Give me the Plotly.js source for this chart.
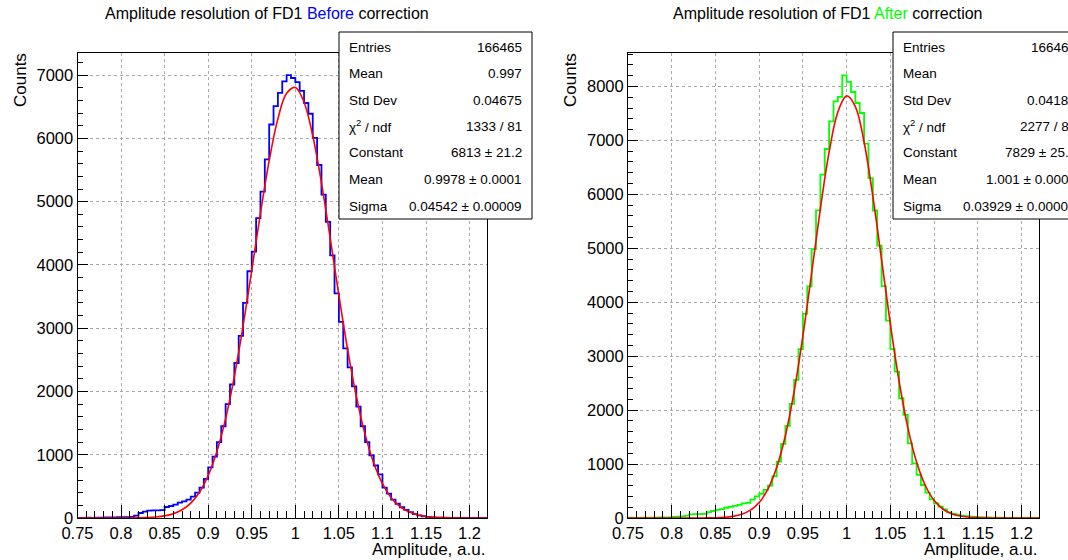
<!DOCTYPE html>
<html><head><meta charset="utf-8">
<script src="https://cdn.plot.ly/plotly-3.0.1.min.js"></script>
<style>html,body{margin:0;padding:0;background:#fff;} #chart{width:1068px;height:560px;}</style>
</head><body><div id="chart"></div>
<script>
// Histogram binning (0.75 .. 1.22, width 0.005, 94 bins)
const binLow = 0.75;
const binWidth = 0.005;

const countsBefore = [
  3, 2, 4, 3, 6, 5, 8, 9, 10, 12,
  12, 14, 18, 37, 79, 100, 118, 121, 121, 124,
  174, 190, 211, 243, 264, 290, 337, 400, 480, 620,
  800, 970, 1200, 1450, 1800, 2110, 2450, 2880, 3400, 3900,
  4210, 4740, 5160, 5670, 6220, 6510, 6720, 6900, 7000, 6955,
  6890, 6750, 6560, 6390, 6010, 5580, 5110, 4680, 4150, 3550,
  3100, 2680, 2380, 2080, 1760, 1450, 1200, 990, 830, 690,
  480, 385, 290, 225, 170, 128, 92, 62, 42, 28,
  18, 10, 6, 4, 3, 2, 1, 1, 0, 0,
  0, 0, 0, 0
];

const countsAfter = [
  5, 3, 4, 6, 5, 8, 6, 9, 10, 12,
  20, 25, 30, 45, 68, 70, 72, 75, 110, 130,
  150, 165, 190, 205, 225, 245, 270, 280, 340, 400,
  450, 520, 600, 770, 1045, 1373, 1707, 2115, 2560, 3129,
  3785, 4292, 4985, 5702, 6364, 6840, 7353, 7724, 7805, 8207,
  8083, 7897, 7693, 7508, 6939, 6300, 5700, 5050, 4300, 3660,
  3130, 2715, 2220, 1911, 1385, 1014, 798, 612, 470, 346,
  272, 210, 161, 105, 74, 60, 43, 35, 25, 20,
  15, 12, 10, 8, 6, 5, 4, 3, 3, 2,
  2, 1, 1, 1
];

// Gaussian fit curves read at 0.01 steps
const fitX = [0.75,0.76,0.77,0.78,0.79,0.80,0.81,0.82,0.83,0.84,0.85,0.86,0.87,0.88,0.89,0.90,0.91,0.92,0.93,0.94,0.95,0.96,0.97,0.98,0.99,1.00,1.01,1.02,1.03,1.04,1.05,1.06,1.07,1.08,1.09,1.10,1.11,1.12,1.13,1.14,1.15,1.16,1.17,1.18,1.19,1.20,1.21,1.22];
const fitBefore = [0,0,0,0,0.1,0.5,1.3,3.2,7.4,16.3,34.2,68.3,130,236,407,671,1052,1571,2236,3032,3916,4819,5649,6309,6713,6805,6572,6046,5299,4425,3520,2667,1926,1325,868,542,322,183,98.6,50.7,24.8,11.6,5.2,2.2,0.9,0.3,0.1,0];
const fitAfter = [0,0,0,0,0,0,0,0.2,0.6,1.8,4.9,12.5,30.2,68.3,144.8,287.6,535.6,934.7,1529.6,2345.8,3371.6,4541.8,5734.9,6787,7528,7826,7626,6965,5962,4783,3597,2535,1675,1037,602,327,166.8,79.7,35.7,15.0,5.9,2.2,0.8,0.2,0,0,0,0];

const xTickVals = [0.75,0.8,0.85,0.9,0.95,1,1.05,1.1,1.15,1.2];
const xTickText = ["0.75","0.8","0.85","0.9","0.95","1","1.05","1.1","1.15","1.2"];

const statsLabels = ["Entries","Mean","Std Dev","\u03c7<sup>2</sup> / ndf","Constant","Mean","Sigma"];
const statsBefore = ["166465","0.997","0.04675","1333 / 81","6813 \u00b1 21.2","0.9978 \u00b1 0.0001","0.04542 \u00b1 0.00009"];
const statsAfter  = ["166465","1","0.04189","2277 / 82","7829 \u00b1 25.0","1.001 \u00b1 0.0001","0.03929 \u00b1 0.00008"];

const W = 1068, H = 560;
const FONT = "Liberation Sans, Arial, Helvetica, sans-serif";
const px = v => v / W;
const py = v => 1 - v / H;

function stepTrace(counts, color, xa, ya) {
  const xs = [], ys = [];
  for (let i = 0; i < counts.length; i++) { xs.push(binLow + i * binWidth); ys.push(counts[i]); }
  xs.push(binLow + counts.length * binWidth); ys.push(counts[counts.length - 1]);
  return {x: xs, y: ys, type: 'scatter', mode: 'lines', line: {shape: 'hv', color: color, width: 1.8},
          xaxis: xa, yaxis: ya, hoverinfo: 'skip', showlegend: false};
}
function fitTrace(vals, xa, ya) {
  return {x: fitX, y: vals, type: 'scatter', mode: 'lines', line: {shape: 'spline', color: '#ff0000', width: 1.6},
          xaxis: xa, yaxis: ya, hoverinfo: 'skip', showlegend: false};
}

const data = [
  stepTrace(countsBefore, '#0000ff', 'x', 'y'),
  fitTrace(fitBefore, 'x', 'y'),
  stepTrace(countsAfter, '#00ff00', 'x2', 'y2'),
  fitTrace(fitAfter, 'x2', 'y2')
];

const plotTop = 53, plotBottom = 518;
function xAxis(domL, domR, anchor) {
  return {domain: [px(domL), px(domR)], range: [0.75, 1.22], anchor: anchor,
    showline: true, mirror: true, linecolor: '#000', linewidth: 1,
    ticks: 'inside', ticklen: 13, tickwidth: 1, tickcolor: '#000',
    tickvals: xTickVals, ticktext: xTickText,
    tickfont: {family: FONT, size: 16.5, color: '#000'},
    showgrid: true, gridcolor: '#a8a8a8', griddash: 'dot', gridwidth: 1, zeroline: false,
    minor: {dtick: 0.01, tick0: 0.75, ticks: 'inside', ticklen: 7, tickcolor: '#000', showgrid: false},
    fixedrange: true};
}
function yAxis(maxV, anchor) {
  return {domain: [1 - plotBottom / H, 1 - plotTop / H], range: [0, maxV], anchor: anchor,
    showline: true, mirror: true, linecolor: '#000', linewidth: 1,
    ticks: 'inside', ticklen: 10, tickwidth: 1, tickcolor: '#000',
    tick0: 0, dtick: 1000, tickformat: 'd',
    tickfont: {family: FONT, size: 16.5, color: '#000'},
    showgrid: true, gridcolor: '#a8a8a8', griddash: 'dot', gridwidth: 1, zeroline: false,
    minor: {dtick: 200, tick0: 0, ticks: 'inside', ticklen: 5, tickcolor: '#000', showgrid: false},
    fixedrange: true};
}

const shapes = [];
const annotations = [];
function statsBox(left, right, labelX, valueX, values) {
  shapes.push({type: 'rect', xref: 'paper', yref: 'paper', x0: px(left), x1: px(right), y0: py(219), y1: py(32),
    fillcolor: '#ffffff', line: {color: '#000', width: 1}, layer: 'above'});
  const rowsY = [47, 73.5, 100, 126.5, 153, 179.5, 206];
  for (let i = 0; i < statsLabels.length; i++) {
    annotations.push({xref: 'paper', yref: 'paper', x: px(labelX), y: py(rowsY[i]), xanchor: 'left', yanchor: 'middle',
      text: statsLabels[i], showarrow: false, font: {family: FONT, size: 13.5, color: '#000'}});
    annotations.push({xref: 'paper', yref: 'paper', x: px(valueX), y: py(rowsY[i]), xanchor: 'right', yanchor: 'middle',
      text: values[i], showarrow: false, font: {family: FONT, size: 13.5, color: '#000'}});
  }
}
statsBox(339, 532, 347, 524, statsBefore);
statsBox(893, 1086, 901, 1078, statsAfter);

annotations.push({xref: 'paper', yref: 'paper', x: px(267), y: py(13), xanchor: 'center', yanchor: 'middle', showarrow: false,
  text: 'Amplitude resolution of FD1 <span style="color:#0000ff">Before</span> correction', font: {family: FONT, size: 16, color: '#000'}});
annotations.push({xref: 'paper', yref: 'paper', x: px(828), y: py(13), xanchor: 'center', yanchor: 'middle', showarrow: false,
  text: 'Amplitude resolution of FD1 <span style="color:#00ff00">After</span> correction', font: {family: FONT, size: 16, color: '#000'}});

annotations.push({xref: 'paper', yref: 'paper', x: px(21), y: py(80), xanchor: 'center', yanchor: 'middle', textangle: -90, showarrow: false,
  text: 'Counts', font: {family: FONT, size: 17, color: '#000'}});
annotations.push({xref: 'paper', yref: 'paper', x: px(571), y: py(80), xanchor: 'center', yanchor: 'middle', textangle: -90, showarrow: false,
  text: 'Counts', font: {family: FONT, size: 17, color: '#000'}});
annotations.push({xref: 'paper', yref: 'paper', x: px(487), y: py(549), xanchor: 'right', yanchor: 'middle', showarrow: false,
  text: 'Amplitude, a.u.', font: {family: FONT, size: 17, color: '#000'}});
annotations.push({xref: 'paper', yref: 'paper', x: px(1039), y: py(549), xanchor: 'right', yanchor: 'middle', showarrow: false,
  text: 'Amplitude, a.u.', font: {family: FONT, size: 17, color: '#000'}});

const layout = {
  width: W, height: H, margin: {l: 0, r: 0, t: 0, b: 0},
  paper_bgcolor: '#ffffff', plot_bgcolor: '#ffffff',
  font: {family: FONT, color: '#000'},
  showlegend: false,
  xaxis: xAxis(77.5, 487, 'y'),
  yaxis: yAxis(7350, 'x'),
  xaxis2: xAxis(628, 1039, 'y2'),
  yaxis2: yAxis(8620, 'x2'),
  shapes: shapes,
  annotations: annotations
};

Plotly.newPlot('chart', data, layout, {displayModeBar: false, staticPlot: true});
</script>
</body></html>
